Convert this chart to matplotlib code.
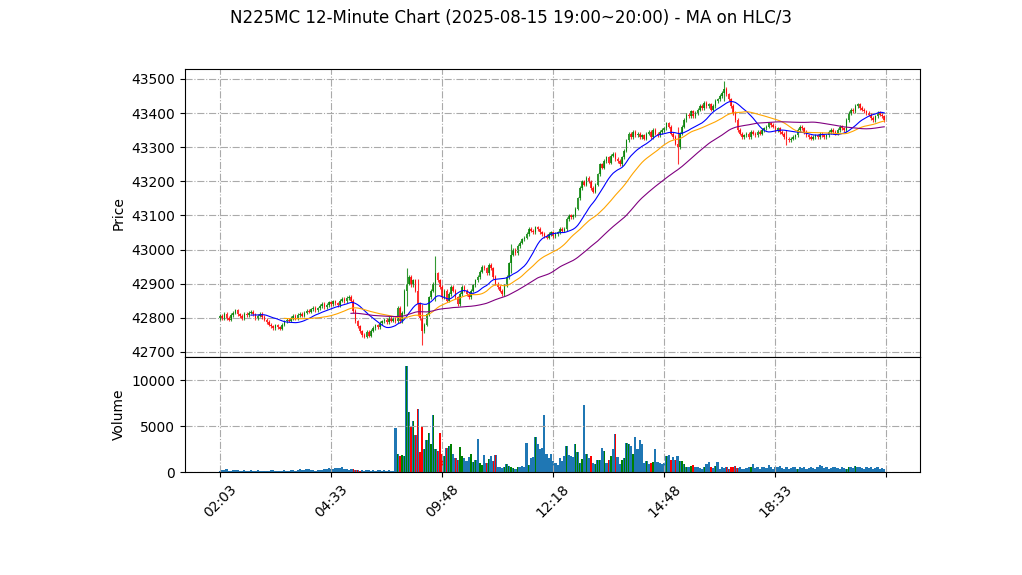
import numpy as np
import matplotlib
matplotlib.use("Agg")
import matplotlib.pyplot as plt

closes = [
42805,42798,42812,42800,42795,42808,42815,42822,42810,42805,42798,42812,42808,42815,42818,42810,42800,42806,42812,42802,
42795,42788,42780,42775,42770,42778,42772,42768,42780,42790,42795,42792,42800,42805,42798,42808,42812,42806,42815,42820,
42818,42825,42830,42822,42828,42835,42840,42832,42838,42845,42840,42848,42842,42838,42850,42855,42848,42858,42862,42850,
42820,42790,42775,42760,42750,42745,42758,42748,42762,42770,42778,42772,42785,42790,42795,42788,42800,42792,42798,42790,
42830,42790,42815,42880,42900,42920,42895,42910,42880,42840,42800,42760,42780,42810,42860,42880,42900,42930,42910,42890,
42860,42880,42850,42870,42890,42880,42860,42840,42870,42890,42880,42870,42860,42880,42895,42910,42920,42935,42950,42945,
42930,42955,42945,42920,42900,42890,42880,42870,42895,42920,42960,42985,43000,42990,43010,43020,43030,43035,43045,43060,
43055,43050,43065,43060,43050,43045,43040,43035,43045,43050,43040,43045,43050,43060,43055,43060,43090,43100,43095,43100,
43120,43150,43180,43200,43190,43210,43200,43180,43170,43190,43220,43250,43240,43260,43270,43255,43275,43280,43265,43260,
43250,43270,43290,43320,43340,43330,43345,43335,43340,43330,43335,43325,43340,43345,43330,43350,43340,43335,43345,43350,
43355,43370,43360,43340,43330,43310,43300,43340,43360,43380,43395,43390,43405,43390,43400,43410,43420,43415,43430,43420,
43425,43410,43420,43435,43440,43450,43460,43470,43455,43440,43420,43400,43380,43350,43340,43330,43335,43340,43330,43345,
43340,43335,43345,43340,43350,43355,43360,43370,43365,43360,43350,43355,43345,43340,43330,43325,43320,43325,43330,43335,
43350,43360,43355,43345,43335,43330,43325,43330,43335,43330,43340,43335,43330,43335,43345,43350,43345,43340,43350,43360,
43355,43350,43380,43400,43410,43405,43420,43425,43415,43410,43405,43400,43395,43385,43380,43390,43400,43395,43390,43380]

volumes = [
150,200,250,300,120,150,200,180,250,150,100,180,150,120,200,150,100,220,150,130,
120,100,150,200,180,150,100,120,150,200,150,120,180,250,150,200,300,250,200,350,
300,250,200,150,180,200,250,300,350,400,300,350,400,450,400,500,350,300,250,350,
300,200,250,150,200,150,180,220,150,200,150,180,200,150,180,120,200,150,100,4800,
2000,1800,1900,1700,11500,6500,5000,5500,4000,6900,2200,4900,2500,3500,4200,3000,6200,2500,2300,4300,
2000,1800,2600,2800,3100,2000,1500,1300,2700,1800,1500,1200,1600,2000,1100,1300,3600,1000,800,1900,
1000,1400,1800,1200,1900,500,600,400,500,900,700,500,400,300,500,600,700,500,3200,800,
1500,1600,3800,3000,2500,2600,6200,2000,1500,2000,1200,1000,800,1500,1200,1700,2800,1900,1700,1600,
3100,2200,1000,1400,7300,2000,1500,1800,1000,900,1300,1300,2600,2300,1000,1300,1700,2500,4100,1600,
900,1300,1500,3200,3100,2800,2000,3800,2500,3500,3000,1000,1200,900,1000,1100,2500,1100,1000,900,
1000,1800,1900,1300,1600,1300,1800,1200,1200,900,600,500,700,800,600,500,400,300,500,900,
1100,500,400,700,1100,300,600,400,500,300,600,500,700,400,500,300,300,400,600,500,
900,400,500,300,600,500,400,800,600,300,500,600,700,400,300,500,300,400,600,500,
300,500,400,600,300,400,500,400,300,600,800,700,400,500,300,400,500,600,400,300,
500,400,300,600,500,400,700,500,600,400,300,500,400,600,300,400,500,300,400,350]

tick_labels = ["02:03", "04:33", "09:48", "12:18", "14:48", "18:33", ""]
big_wicks = {84: 40, 89: 30, 91: 35, 97: 45, 131: 25, 206: 45, 227: 20, 255: 15}
ma_windows = [15, 30, 60]
ma_colors = ["blue", "orange", "purple"]

c = np.array(closes, float)
o = np.concatenate([[c[0] - 5], c[:-1]])
n = len(c)
hi = np.maximum(o, c) + 5
lo = np.minimum(o, c) - 5
for k, w in big_wicks.items():
    hi[k] += w; lo[k] -= w
x = np.arange(n)
hlc3 = (hi + lo + c) / 3

fig = plt.figure(figsize=(10.22, 5.75), dpi=100)
ax = fig.add_axes([0.181, 0.379, 0.719, 0.501])
axv = fig.add_axes([0.181, 0.179, 0.719, 0.200], sharex=ax)
fig.suptitle("N225MC 12-Minute Chart (2025-08-15 19:00~20:00) - MA on HLC/3", fontsize=12, y=0.985)

up = c >= o
cols = np.where(up, "green", "red")
ax.vlines(x, lo, hi, colors=cols, linewidth=0.8, alpha=0.8)
ax.bar(x, np.maximum(np.abs(c - o), 1), bottom=np.minimum(o, c), width=0.7, color=cols, alpha=0.8)
for w, col in zip(ma_windows, ma_colors):
    ma = np.convolve(hlc3, np.ones(w) / w, mode="valid")
    ax.plot(x[w - 1:], ma, color=col, linewidth=0.8)
ax.set_ylim(42685, 43529)
ax.set_ylabel("Price")
ax.grid(True, linestyle="-.", color="#aaaaaa")
plt.setp(ax.get_xticklabels(), visible=False)

axv.bar(x, volumes, width=1.0, color="#1f77b4")
vcol = [(i, "green" if up[i] else "red") for i in range(n) if abs(c[i] - o[i]) >= 15]
axv.bar([i for i, _ in vcol], [volumes[i] for i, _ in vcol], width=0.6, color=[k for _, k in vcol])
axv.set_ylim(0, 12500)
axv.set_ylabel("Volume")
axv.grid(True, linestyle="-.", color="#aaaaaa")
axv.set_xticks(np.arange(0, 301, 50))
axv.set_xticklabels(tick_labels, rotation=45)
axv.set_xlim(-15.7, 315)
fig.savefig("out.png")
